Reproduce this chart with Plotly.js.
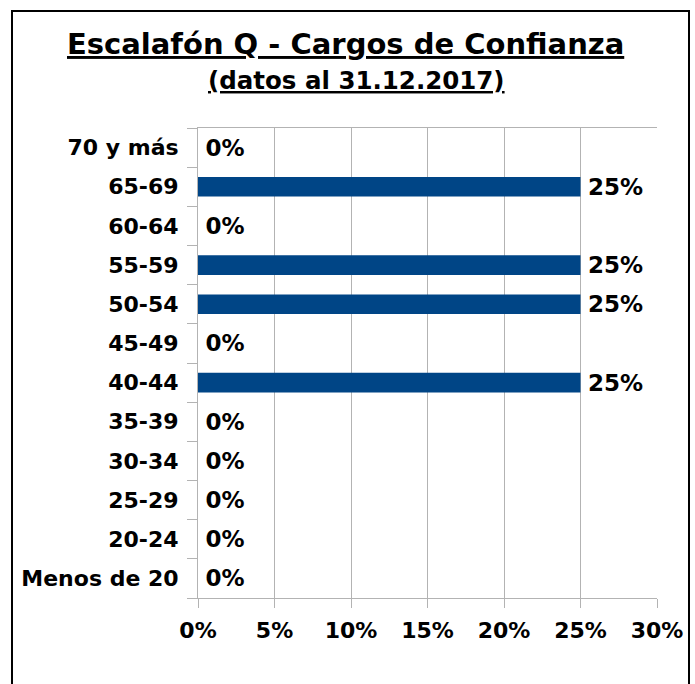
<!DOCTYPE html>
<html>
<head>
<meta charset="utf-8">
<script src="https://cdn.plot.ly/plotly-3.0.1.min.js"></script>
<style>
html,body{margin:0;padding:0;background:#fff;}
#chart{width:695px;height:684px;}
</style>
</head>
<body>
<div id="chart"></div>
<script>
var categories = ["Menos de 20","20-24","25-29","30-34","35-39","40-44","45-49","50-54","55-59","60-64","65-69","70 y más"];
var shares = [0,0,0,0,0,0.25,0,0.25,0.25,0,0.25,0];
var xTickValues = [0,0.05,0.10,0.15,0.20,0.25,0.30];
var titleText = "Escalafón Q - Cargos de Confianza";
var subtitleText = "(datos al 31.12.2017)";

var boldFont = {family: "DejaVu Sans, Verdana, sans-serif", weight: "bold", color: "#000"};

var trace = {
  type: "bar",
  orientation: "h",
  x: shares,
  y: categories,
  marker: {color: "#004586"},
  width: 0.5,
  text: shares.map(function(v){ return "\u2009" + Math.round(v*100) + "%"; }),
  textposition: "outside",
  constraintext: "none",
  cliponaxis: false,
  textfont: Object.assign({size: 23}, boldFont),
  hoverinfo: "none"
};

var layout = {
  width: 695,
  height: 684,
  margin: {l: 198, r: 38, t: 128, b: 86},
  paper_bgcolor: "#fff",
  plot_bgcolor: "#fff",
  showlegend: false,
  font: Object.assign({size: 22}, boldFont),
  xaxis: {
    range: [0, 0.3],
    tickvals: xTickValues,
    tickformat: ".0%",
    showgrid: true,
    gridcolor: "#b3b3b3",
    gridwidth: 1,
    zeroline: false,
    showline: true,
    linecolor: "#b3b3b3",
    linewidth: 1,
    mirror: true,
    ticks: "outside",
    ticklen: 9,
    tickcolor: "#b3b3b3",
    ticklabelstandoff: 4,
    tickfont: Object.assign({size: 22}, boldFont),
    fixedrange: true
  },
  yaxis: {
    type: "category",
    categoryorder: "array",
    categoryarray: categories,
    showgrid: false,
    zeroline: false,
    showline: true,
    linecolor: "#b3b3b3",
    linewidth: 1,
    ticks: "outside",
    tickson: "boundaries",
    ticklen: 10,
    tickcolor: "#b3b3b3",
    ticklabelstandoff: 14,
    tickfont: Object.assign({size: 22}, boldFont),
    fixedrange: true
  },
  annotations: [
    {
      xref: "paper", yref: "paper",
      x: (345 - 198) / 459, y: 1 + (128 - 44) / 470,
      xanchor: "center", yanchor: "middle",
      text: "<u>" + titleText + "</u>",
      showarrow: false,
      font: Object.assign({size: 29}, boldFont)
    },
    {
      xref: "paper", yref: "paper",
      x: (356 - 198) / 459, y: 1 + (128 - 81) / 470,
      xanchor: "center", yanchor: "middle",
      text: "<u>" + subtitleText + "</u>",
      showarrow: false,
      font: Object.assign({size: 24.5}, boldFont)
    }
  ],
  shapes: [
    {
      type: "rect", xref: "paper", yref: "paper",
      x0: (12 - 198) / 459, x1: (689 - 198) / 459,
      y0: (598 - 700) / 470, y1: 1 + (128 - 11) / 470,
      line: {color: "#000", width: 2},
      fillcolor: "rgba(0,0,0,0)",
      layer: "below"
    }
  ]
};

Plotly.newPlot("chart", [trace], layout, {displayModeBar: false, staticPlot: true});
</script>
</body>
</html>
